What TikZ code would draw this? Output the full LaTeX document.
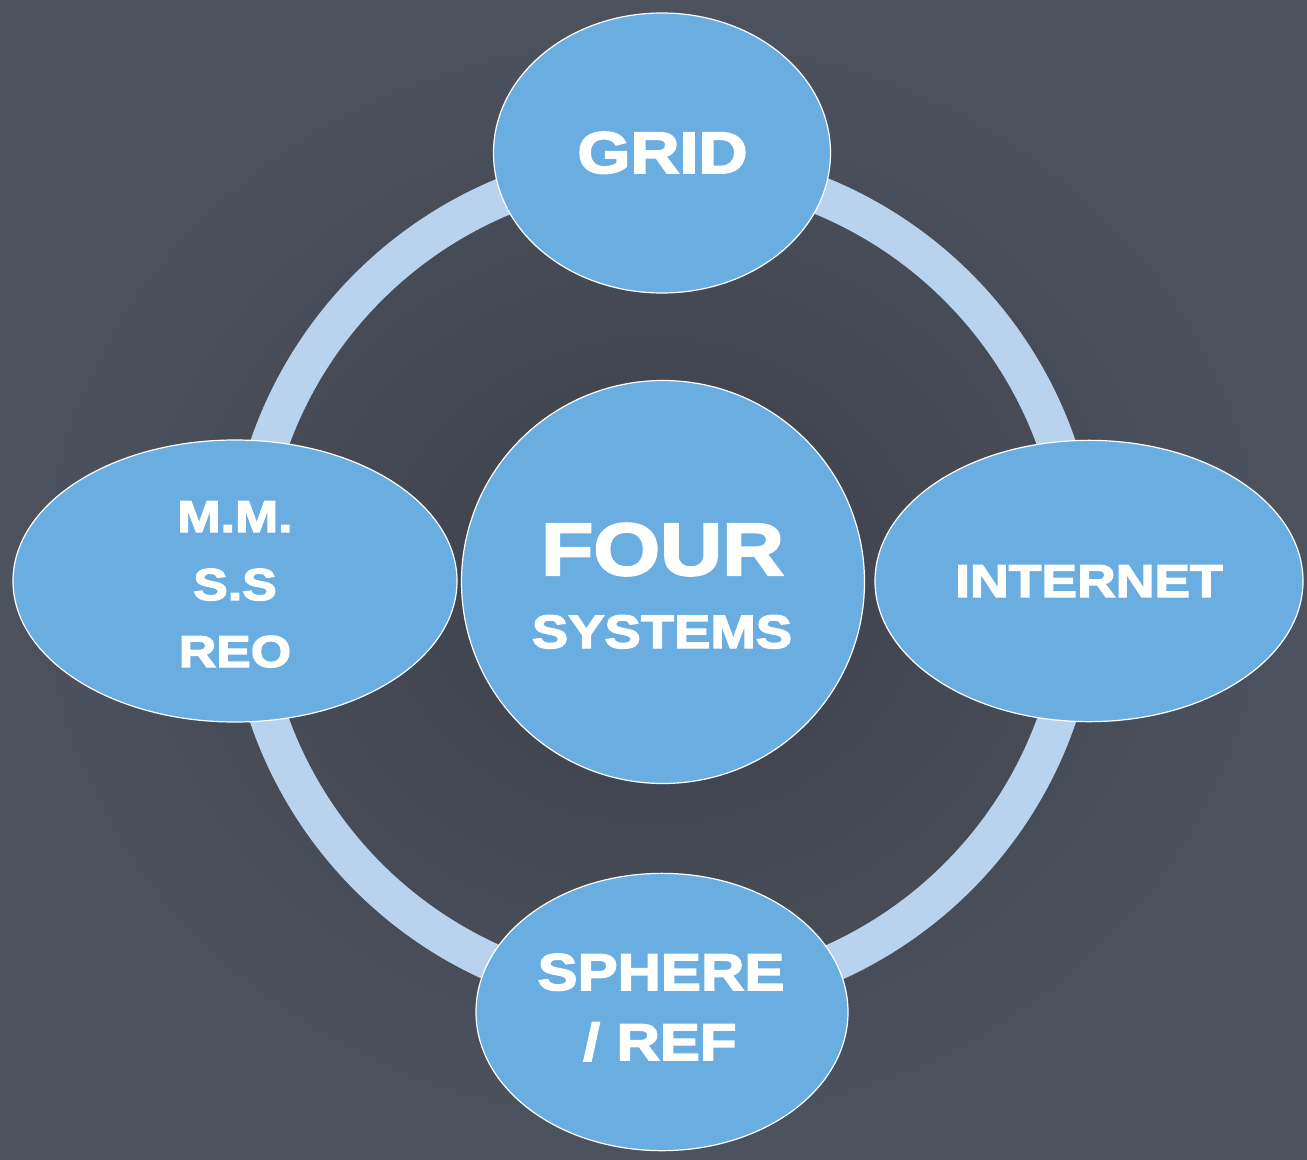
\documentclass[tikz,border=0pt]{standalone}
\usepackage{fontspec}
\newfontfamily\labelfont[FakeStretch=1.16,FakeBold=3]{Liberation Sans}
\usetikzlibrary{shapes.geometric}

\definecolor{boardin}{HTML}{3C4049}
\definecolor{boardout}{HTML}{4C525E}
\definecolor{bubble}{HTML}{6AADE0}
\definecolor{ringblue}{HTML}{B9D3EE}

\tikzset{
  bubble/.style={ellipse, fill=bubble, draw=white, line width=0.9pt,
    inner sep=0pt, minimum width=#1},
  ringline/.style={draw=ringblue, line width=28.5pt},
  caption/.style={anchor=base, text=white, inner sep=0pt,
    font=\labelfont\bfseries\fontsize{#1}{#1}\selectfont},
}

\begin{document}
\begin{tikzpicture}[x=0.75pt, y=-0.75pt]
  % chalkboard background
  \useasboundingbox (0,0) rectangle (1307,1160);
  \shade[inner color=boardin, outer color=boardout] (0,0) rectangle (1307,1160);

  % central system and the ring that links the four systems
  \node[bubble=302.25pt, minimum height=302.25pt] (core) at (663,582) {};
  \path[ringline] (core.center) circle[radius=417];

  % the four systems on the ring
  \node[bubble=252.75pt, minimum height=210pt]    (grid)     at (662,153)  {};
  \node[bubble=333pt,    minimum height=211.5pt]  (mmss)     at (235,581)  {};
  \node[bubble=321pt,    minimum height=211pt]    (internet) at (1089,581) {};
  \node[bubble=279pt,    minimum height=208pt]    (sphere)   at (662,1012) {};

  % labels
  \node[caption=55.5] (four)    at (662.5,575) {FOUR};
  \node[caption=35.2] (systems) at (662,648)   {SYSTEMS};

  \node[caption=44]   (gridtxt) at (662.5,173) {GRID};

  \node[caption=33.5] (mm)  at (235,532) {M.M.};
  \node[caption=33.5] (ss)  at (235,600) {S.S};
  \node[caption=33.5] (reo) at (235,667) {REO};

  \node[caption=34.6] (nettxt) at (1089,597) {INTERNET};

  \node[caption=38.8] (spheretxt) at (661,990)  {SPHERE};
  \node[caption=38.8] (reftxt)    at (660,1060) {/ REF};
\end{tikzpicture}
\end{document}
